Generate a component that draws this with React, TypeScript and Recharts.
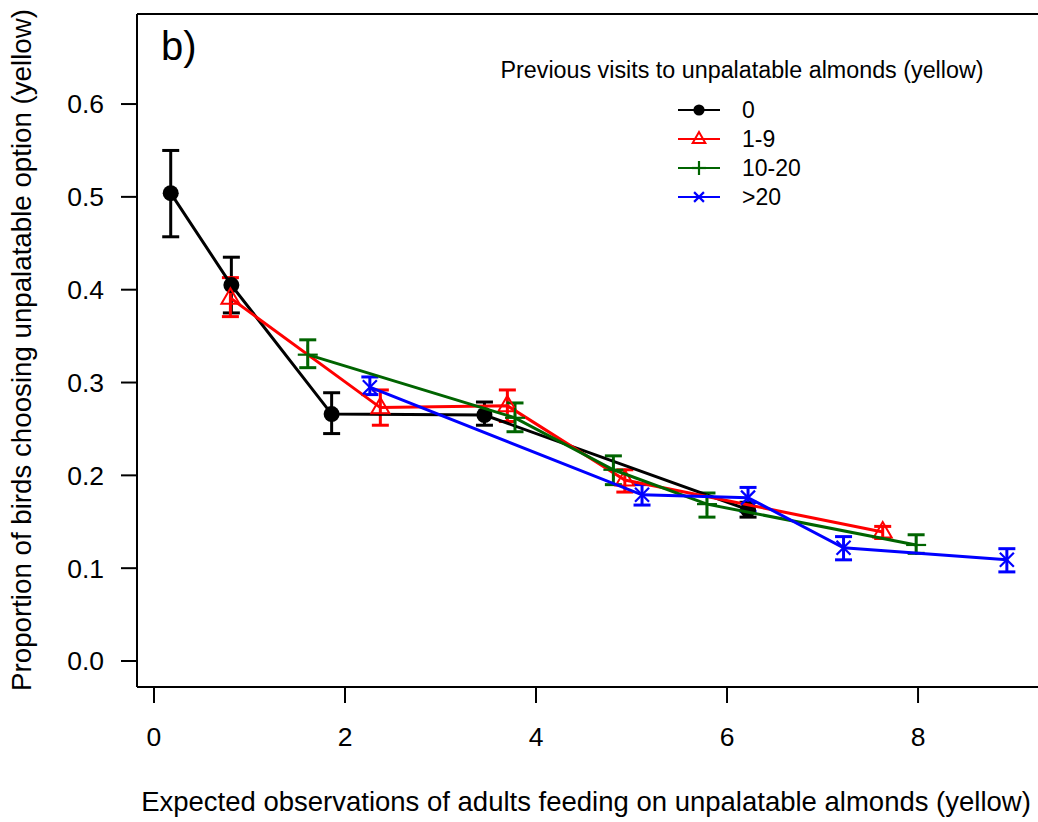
import React from 'react';
import { ScatterChart, Scatter, XAxis, YAxis, ErrorBar, ReferenceLine, Customized } from 'recharts';

const FONT = '"Liberation Sans", Arial, Helvetica, sans-serif';

const SERIES_NAMES = ['0', '1-9', '10-20', '>20'];
const SERIES_COLORS = ['#000000', '#FF0000', '#006400', '#0000FF'];

// series "0"
const X_0 = [0.175, 0.81, 1.86, 3.46, 6.22];
const Y_0 = [0.504, 0.405, 0.266, 0.265, 0.163];
const LO_0 = [0.457, 0.375, 0.245, 0.254, 0.155];
const HI_0 = [0.55, 0.435, 0.289, 0.279, 0.171];

// series "1-9"
const X_1 = [0.8, 2.37, 3.7, 4.93, 7.63];
const Y_1 = [0.391, 0.273, 0.275, 0.195, 0.139];
const LO_1 = [0.371, 0.254, 0.258, 0.182, 0.132];
const HI_1 = [0.413, 0.292, 0.292, 0.206, 0.145];

// series "10-20"
const X_2 = [1.61, 3.78, 4.81, 5.79, 7.98];
const Y_2 = [0.33, 0.262, 0.206, 0.169, 0.125];
const LO_2 = [0.316, 0.247, 0.19, 0.155, 0.116];
const HI_2 = [0.346, 0.278, 0.221, 0.181, 0.136];

// series ">20"
const X_3 = [2.26, 5.11, 6.22, 7.22, 8.93];
const Y_3 = [0.295, 0.179, 0.176, 0.122, 0.109];
const LO_3 = [0.287, 0.168, 0.161, 0.109, 0.096];
const HI_3 = [0.306, 0.19, 0.187, 0.134, 0.121];

const X_TICKS = [0, 2, 4, 6, 8];
const Y_TICKS = [0, 0.1, 0.2, 0.3, 0.4, 0.5, 0.6];
const X_DOMAIN = [-0.178, 9.277];
const Y_DOMAIN = [-0.028, 0.697];

const X_LABEL = 'Expected observations of adults feeding on unpalatable almonds (yellow)';
const Y_LABEL = 'Proportion of birds choosing unpalatable option (yellow)';
const LEGEND_TITLE = 'Previous visits to unpalatable almonds (yellow)';
const PANEL_LABEL = 'b)';

function build(xs: number[], ys: number[], lo: number[], hi: number[]) {
  return xs.map((x, i) => ({ x, y: ys[i], err: [ys[i] - lo[i], hi[i] - ys[i]] }));
}

const DATA = [
  build(X_0, Y_0, LO_0, HI_0),
  build(X_1, Y_1, LO_1, HI_1),
  build(X_2, Y_2, LO_2, HI_2),
  build(X_3, Y_3, LO_3, HI_3),
];

function Marker({ kind, cx, cy, color, scale = 1 }: any) {
  if (cx == null || cy == null) return null;
  if (kind === 0) return <circle cx={cx} cy={cy} r={8 * scale} fill={color} />;
  if (kind === 1) {
    const s = 9 * scale;
    return (
      <polygon
        points={`${cx},${cy - s * 1.1} ${cx - s},${cy + s * 0.62} ${cx + s},${cy + s * 0.62}`}
        fill="none"
        stroke={color}
        strokeWidth={2}
      />
    );
  }
  if (kind === 2) {
    const s = 10 * scale;
    return (
      <g stroke={color} strokeWidth={2.2}>
        <line x1={cx - s} y1={cy} x2={cx + s} y2={cy} />
        <line x1={cx} y1={cy - s} x2={cx} y2={cy + s} />
      </g>
    );
  }
  const s = 7 * scale;
  return (
    <g stroke={color} strokeWidth={2.2}>
      <line x1={cx - s} y1={cy - s} x2={cx + s} y2={cy + s} />
      <line x1={cx - s} y1={cy + s} x2={cx + s} y2={cy - s} />
    </g>
  );
}

function Decorations() {
  const rowY = [110, 139, 168, 197];
  return (
    <g fontFamily={FONT}>
      <text x={161} y={60} fontSize={40} fill="#000">{PANEL_LABEL}</text>
      <text x={586} y={811} fontSize={27.5} textAnchor="middle" fill="#000">{X_LABEL}</text>
      <text x={31} y={350} fontSize={27.7} textAnchor="middle" fill="#000" transform="rotate(-90, 31, 350)">{Y_LABEL}</text>
      <text x={742} y={78} fontSize={23.3} textAnchor="middle" fill="#000">{LEGEND_TITLE}</text>
      {SERIES_NAMES.map((name, i) => (
        <g key={name}>
          <line x1={678} x2={720} y1={rowY[i]} y2={rowY[i]} stroke={SERIES_COLORS[i]} strokeWidth={2} />
          <Marker kind={i} cx={699} cy={rowY[i]} color={SERIES_COLORS[i]} scale={0.7} />
          <text x={742} y={rowY[i] + 8} fontSize={23} fill="#000">{name}</text>
        </g>
      ))}
    </g>
  );
}

export default function App() {
  return (
    <div style={{ position: 'absolute', left: 0, top: 0, background: '#fff' }}>
      <ScatterChart
        width={1038}
        height={822}
        margin={{ top: 14, right: -2, left: 0, bottom: 0 }}
      >
        <XAxis
          type="number"
          dataKey="x"
          domain={X_DOMAIN}
          ticks={X_TICKS}
          allowDataOverflow
          height={135}
          tickSize={16}
          tickMargin={24}
          stroke="#000"
          strokeWidth={2}
          tick={{ fill: '#000', fontSize: 26.5, fontFamily: FONT }}
          tickLine={{ stroke: '#000', strokeWidth: 2 }}
        />
        <YAxis
          type="number"
          dataKey="y"
          domain={Y_DOMAIN}
          ticks={Y_TICKS}
          allowDataOverflow
          width={137}
          tickSize={16}
          tickMargin={17}
          stroke="#000"
          strokeWidth={2}
          tickFormatter={(v: number) => v.toFixed(1)}
          tick={{ fill: '#000', fontSize: 26.5, fontFamily: FONT }}
          tickLine={{ stroke: '#000', strokeWidth: 2 }}
        />
        <ReferenceLine y={Y_DOMAIN[1]} stroke="#000" strokeWidth={2} ifOverflow="visible" />
        {DATA.map((d, i) => (
          <Scatter
            key={SERIES_NAMES[i]}
            name={SERIES_NAMES[i]}
            data={d}
            isAnimationActive={false}
            line={{ stroke: SERIES_COLORS[i], strokeWidth: 3 }}
            lineJointType="linear"
            shape={(p: any) => <Marker kind={i} cx={p.cx} cy={p.cy} color={SERIES_COLORS[i]} />}
          >
            <ErrorBar dataKey="err" direction="y" width={8.5} stroke={SERIES_COLORS[i]} strokeWidth={3} isAnimationActive={false} />
          </Scatter>
        ))}
        <Customized component={Decorations} />
      </ScatterChart>
    </div>
  );
}
